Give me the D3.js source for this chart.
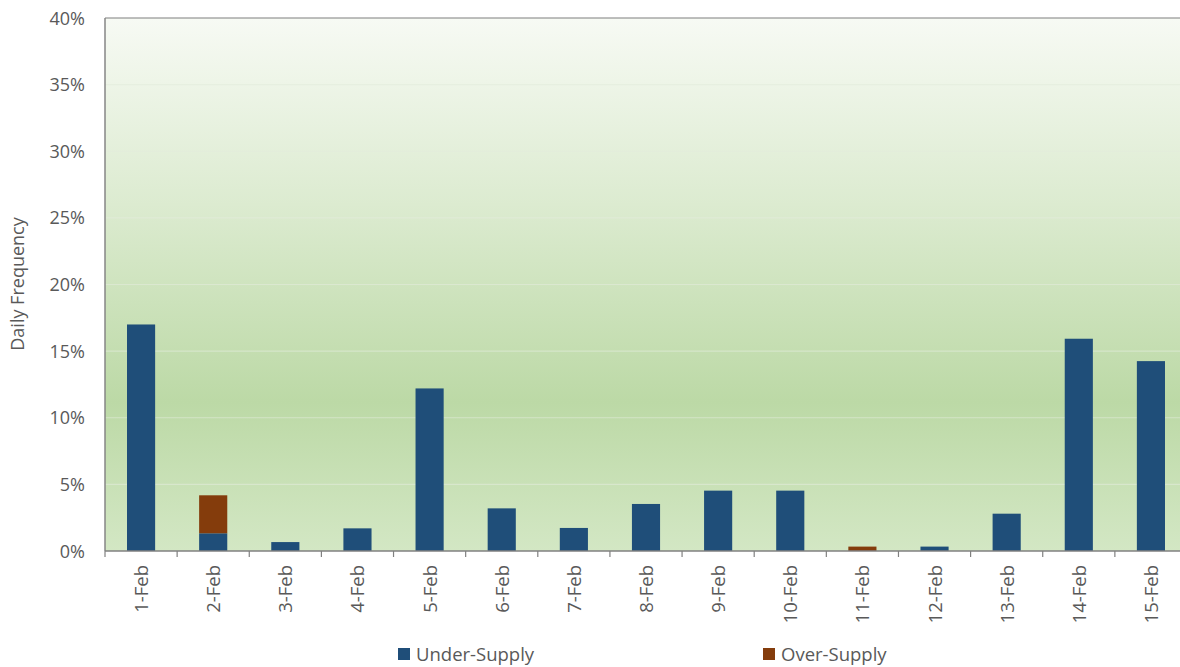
<!DOCTYPE html>
<html>
<head>
<meta charset="utf-8">
<script src="https://cdn.jsdelivr.net/npm/d3@7"></script>
<style>
  html, body { margin: 0; padding: 0; background: #ffffff; }
  svg { display: block; }
  text { font-family: "Open Sans", Lato, sans-serif; fill: #595959; }
</style>
</head>
<body>
<svg id="chart" width="1180" height="667"></svg>
<script>
// Daily frequency of supply mismatch, 1–15 February
const days = ["1-Feb","2-Feb","3-Feb","4-Feb","5-Feb","6-Feb","7-Feb","8-Feb",
              "9-Feb","10-Feb","11-Feb","12-Feb","13-Feb","14-Feb","15-Feb"];
const underSupply = [17.0, 1.33, 0.67, 1.7, 12.2, 3.2, 1.73, 3.53, 4.53, 4.53, 0, 0.33, 2.8, 15.93, 14.25];
const overSupply  = [0, 2.85, 0, 0, 0, 0, 0, 0, 0, 0, 0.33, 0, 0, 0, 0];
const yTicks = [0, 5, 10, 15, 20, 25, 30, 35, 40];
const seriesNames = ["Under-Supply", "Over-Supply"];
const seriesColors = ["#1f4e79", "#843c0c"];

const svg = d3.select("#chart");
const plotLeft = 105, plotTop = 18, plotBottom = 551, plotRight = 1187;

const x = d3.scaleBand().domain(days).range([plotLeft, plotRight]).paddingInner(0.61).paddingOuter(0.305);
const y = d3.scaleLinear().domain([0, 40]).range([plotBottom, plotTop]);

// Plot background gradient
const defs = svg.append("defs");
const grad = defs.append("linearGradient").attr("id", "bg").attr("x1", 0).attr("y1", 0).attr("x2", 0).attr("y2", 1);
grad.append("stop").attr("offset", "0%").attr("stop-color", "#f7faf4");
grad.append("stop").attr("offset", "35%").attr("stop-color", "#dcebd0");
grad.append("stop").attr("offset", "72%").attr("stop-color", "#bcd9a6");
grad.append("stop").attr("offset", "100%").attr("stop-color", "#d3e7c4");

svg.append("rect")
  .attr("x", plotLeft).attr("y", plotTop)
  .attr("width", plotRight - plotLeft).attr("height", plotBottom - plotTop)
  .attr("fill", "url(#bg)");

// Horizontal gridlines
svg.append("g").selectAll("line")
  .data(yTicks.filter(d => d > 0 && d < 40))
  .join("line")
  .attr("x1", plotLeft).attr("x2", plotRight)
  .attr("y1", d => y(d)).attr("y2", d => y(d))
  .attr("stroke", "#e3ecdc").attr("stroke-width", 1.2).attr("opacity", 0.6);

// Stacked bars
const stacked = d3.stack().keys([0, 1]).value((d, k) => k === 0 ? d.u : d.o)(
  days.map((d, i) => ({ day: d, u: underSupply[i], o: overSupply[i] }))
);
svg.append("g").selectAll("g")
  .data(stacked)
  .join("g")
  .attr("fill", (s, i) => seriesColors[i])
  .selectAll("rect")
  .data(s => s.filter(p => p[1] - p[0] > 0))
  .join("rect")
  .attr("x", p => x(p.data.day))
  .attr("width", x.bandwidth())
  .attr("y", p => y(p[1]))
  .attr("height", p => y(p[0]) - y(p[1]));

// Plot border (top and left) and category axis
svg.append("line").attr("x1", plotLeft).attr("x2", plotRight).attr("y1", plotTop).attr("y2", plotTop)
  .attr("stroke", "#7f7f7f").attr("stroke-width", 1.2);
svg.append("line").attr("x1", plotLeft).attr("x2", plotLeft).attr("y1", plotTop).attr("y2", plotBottom)
  .attr("stroke", "#868686").attr("stroke-width", 1.5);

const xAxis = svg.append("g").attr("transform", `translate(0,${plotBottom})`);
xAxis.append("line").attr("x1", plotLeft).attr("x2", plotRight).attr("stroke", "#808080").attr("stroke-width", 1.5);
const step = x.step();
xAxis.selectAll("line.tick")
  .data(d3.range(days.length + 1))
  .join("line").attr("class", "tick")
  .attr("x1", i => plotLeft + i * step).attr("x2", i => plotLeft + i * step)
  .attr("y1", 0).attr("y2", 6)
  .attr("stroke", "#808080").attr("stroke-width", 1.2);
xAxis.selectAll("text")
  .data(days)
  .join("text")
  .attr("transform", d => `translate(${x(d) + x.bandwidth() / 2 + 7},14) rotate(-90)`)
  .attr("text-anchor", "end")
  .attr("font-size", 18.5)
  .text(d => d);

// Value axis labels
svg.append("g").selectAll("text")
  .data(yTicks)
  .join("text")
  .attr("x", 85).attr("y", d => y(d) + 6.5)
  .attr("text-anchor", "end")
  .attr("font-size", 18)
  .text(d => d + "%");

svg.append("text")
  .attr("transform", "translate(24,284) rotate(-90)")
  .attr("text-anchor", "middle")
  .attr("font-size", 18)
  .text("Daily Frequency");

// Legend
const legendX = [398, 763];
const legend = svg.append("g").selectAll("g")
  .data(seriesNames)
  .join("g")
  .attr("transform", (d, i) => `translate(${legendX[i]},648)`);
legend.append("rect").attr("width", 12).attr("height", 12).attr("fill", (d, i) => seriesColors[i]);
legend.append("text").attr("x", 18).attr("y", 13).attr("font-size", 18.5).text(d => d);
</script>
</body>
</html>
